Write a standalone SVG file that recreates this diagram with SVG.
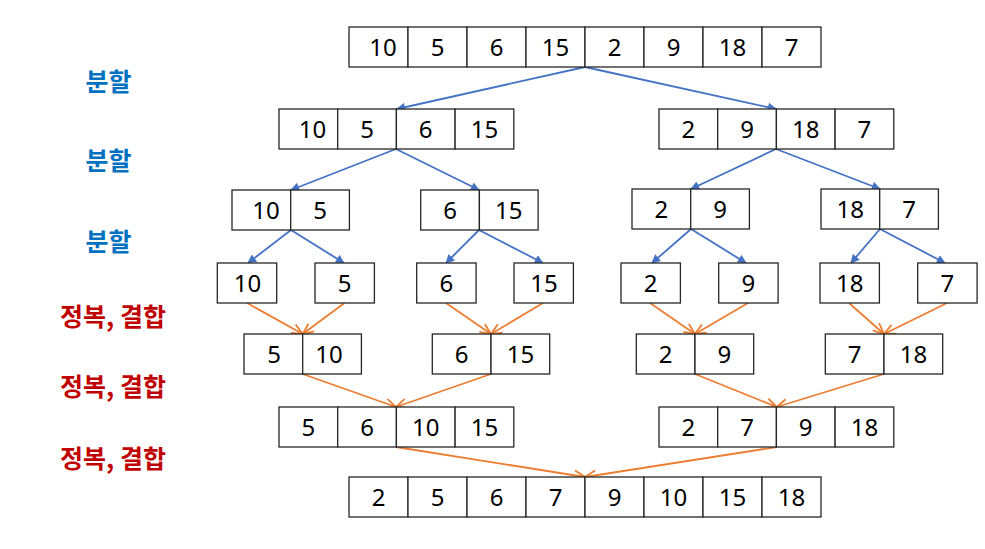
<svg xmlns="http://www.w3.org/2000/svg" width="985" height="549" viewBox="0 0 985 549">
<style>
.c{fill:#fff;stroke:#262626;stroke-width:1.3}
.n{font-family:"Noto Sans","Liberation Sans",sans-serif;font-size:24px;fill:#000;text-anchor:middle}
.lb{font-family:"Noto Sans CJK KR","Noto Sans",sans-serif;font-size:25px;font-weight:bold;text-anchor:middle}
.blue{fill:#0070C0}
.red{fill:#C00000}
.ab{stroke:#4472C4;stroke-width:1.8;fill:none;marker-end:url(#mb)}
.ao{stroke:#ED7D31;stroke-width:1.8;fill:none;marker-end:url(#mo)}
</style>
<defs>
<marker id="mb" viewBox="0 0 10 10" refX="9" refY="5" markerWidth="10" markerHeight="9" orient="auto" markerUnits="userSpaceOnUse">
<path d="M0,0 L10,5 L0,10 Z" fill="#4472C4"/>
</marker>
<marker id="mo" viewBox="0 0 10 10" refX="10" refY="5" markerWidth="12" markerHeight="12" orient="auto" markerUnits="userSpaceOnUse">
<path d="M1,1 L10,5 L1,9" fill="none" stroke="#ED7D31" stroke-width="1.5"/>
</marker>
</defs>

<g id="labels">
<text class="lb blue" x="108.5" y="91">분할</text>
<text class="lb blue" x="108.5" y="170">분할</text>
<text class="lb blue" x="108.5" y="251">분할</text>
<text class="lb red" x="113" y="326">정복, 결합</text>
<text class="lb red" x="113" y="396">정복, 결합</text>
<text class="lb red" x="113" y="468">정복, 결합</text>
</g>

<g id="connectors">
<line class="ab" x1="585" y1="67" x2="397" y2="109"/>
<line class="ab" x1="585" y1="67" x2="776" y2="109"/>
<line class="ab" x1="396" y1="149" x2="291" y2="190"/>
<line class="ab" x1="396" y1="149" x2="479" y2="190"/>
<line class="ab" x1="776" y1="149" x2="691" y2="189"/>
<line class="ab" x1="776" y1="149" x2="880" y2="189"/>
<line class="ab" x1="291" y1="230" x2="248" y2="263"/>
<line class="ab" x1="291" y1="230" x2="344" y2="263"/>
<line class="ab" x1="479" y1="230" x2="446" y2="263"/>
<line class="ab" x1="479" y1="230" x2="543" y2="263"/>
<line class="ab" x1="691" y1="229" x2="652" y2="263"/>
<line class="ab" x1="691" y1="229" x2="746" y2="263"/>
<line class="ab" x1="880" y1="229" x2="851" y2="263"/>
<line class="ab" x1="880" y1="229" x2="945" y2="263"/>

<line class="ao" x1="247" y1="303" x2="302.7" y2="334"/>
<line class="ao" x1="344.5" y1="303" x2="302.7" y2="334"/>
<line class="ao" x1="446" y1="303" x2="491" y2="334"/>
<line class="ao" x1="543" y1="303" x2="491" y2="334"/>
<line class="ao" x1="650" y1="303" x2="695" y2="334"/>
<line class="ao" x1="748" y1="303" x2="695" y2="334"/>
<line class="ao" x1="849" y1="303" x2="884" y2="334"/>
<line class="ao" x1="947" y1="303" x2="884" y2="334"/>
<line class="ao" x1="302.7" y1="374" x2="396" y2="407"/>
<line class="ao" x1="491" y1="374" x2="396" y2="407"/>
<line class="ao" x1="695" y1="374" x2="776.7" y2="407"/>
<line class="ao" x1="884" y1="374" x2="776.7" y2="407"/>
<line class="ao" x1="396" y1="447" x2="585" y2="477"/>
<line class="ao" x1="776.7" y1="447" x2="585" y2="477"/>
</g>

<g id="r1">
<rect class="c" x="349" y="27" width="59" height="40"/><rect class="c" x="408" y="27" width="59" height="40"/><rect class="c" x="467" y="27" width="59" height="40"/><rect class="c" x="526" y="27" width="59" height="40"/><rect class="c" x="585" y="27" width="59" height="40"/><rect class="c" x="644" y="27" width="59" height="40"/><rect class="c" x="703" y="27" width="59" height="40"/><rect class="c" x="762" y="27" width="59" height="40"/>
<text class="n" x="383" y="56">10</text><text class="n" x="437.5" y="56">5</text><text class="n" x="496.5" y="56">6</text><text class="n" x="555.5" y="56">15</text><text class="n" x="614.5" y="56">2</text><text class="n" x="673.5" y="56">9</text><text class="n" x="732.5" y="56">18</text><text class="n" x="791.5" y="56">7</text>
</g>

<g id="r2a">
<rect class="c" x="279" y="109" width="58.7" height="40"/><rect class="c" x="337.7" y="109" width="58.7" height="40"/><rect class="c" x="396.4" y="109" width="58.7" height="40"/><rect class="c" x="455.1" y="109" width="58.7" height="40"/>
<text class="n" x="312.5" y="138">10</text><text class="n" x="367" y="138">5</text><text class="n" x="425.7" y="138">6</text><text class="n" x="484.4" y="138">15</text>
</g>
<g id="r2b">
<rect class="c" x="659" y="109" width="58.7" height="40"/><rect class="c" x="717.7" y="109" width="58.7" height="40"/><rect class="c" x="776.4" y="109" width="58.7" height="40"/><rect class="c" x="835.1" y="109" width="58.7" height="40"/>
<text class="n" x="688.3" y="138">2</text><text class="n" x="747" y="138">9</text><text class="n" x="805.7" y="138">18</text><text class="n" x="864.4" y="138">7</text>
</g>

<g id="r3a">
<rect class="c" x="232" y="190" width="58.7" height="40"/><rect class="c" x="290.7" y="190" width="58.7" height="40"/>
<text class="n" x="266" y="219">10</text><text class="n" x="320" y="219">5</text>
</g>
<g id="r3b">
<rect class="c" x="420.7" y="190" width="58.7" height="40"/><rect class="c" x="479.4" y="190" width="58.7" height="40"/>
<text class="n" x="450" y="219">6</text><text class="n" x="508.7" y="219">15</text>
</g>
<g id="r3c">
<rect class="c" x="632" y="189" width="58.7" height="40"/><rect class="c" x="690.7" y="189" width="58.7" height="40"/>
<text class="n" x="661.3" y="218">2</text><text class="n" x="720" y="218">9</text>
</g>
<g id="r3d">
<rect class="c" x="821" y="189" width="58.7" height="40"/><rect class="c" x="879.7" y="189" width="58.7" height="40"/>
<text class="n" x="850.3" y="218">18</text><text class="n" x="909" y="218">7</text>
</g>

<g id="r4a"><rect class="c" x="217.3" y="263" width="59.4" height="40"/><text class="n" x="247.5" y="292">10</text></g>
<g id="r4b"><rect class="c" x="315" y="263" width="59.4" height="40"/><text class="n" x="344.7" y="292">5</text></g>
<g id="r4c"><rect class="c" x="416.7" y="263" width="59.4" height="40"/><text class="n" x="446.4" y="292">6</text></g>
<g id="r4d"><rect class="c" x="514" y="263" width="59.4" height="40"/><text class="n" x="544" y="292">15</text></g>
<g id="r4e"><rect class="c" x="621" y="263" width="59.4" height="40"/><text class="n" x="650.7" y="292">2</text></g>
<g id="r4f"><rect class="c" x="718.7" y="263" width="59.4" height="40"/><text class="n" x="748.4" y="292">9</text></g>
<g id="r4g"><rect class="c" x="820" y="263" width="59.4" height="40"/><text class="n" x="849.7" y="292">18</text></g>
<g id="r4h"><rect class="c" x="917.7" y="263" width="59.4" height="40"/><text class="n" x="947.4" y="292">7</text></g>

<g id="r5a">
<rect class="c" x="244" y="334" width="58.7" height="40"/><rect class="c" x="302.7" y="334" width="58.7" height="40"/>
<text class="n" x="274" y="363">5</text><text class="n" x="329" y="363">10</text>
</g>
<g id="r5b">
<rect class="c" x="432.3" y="334" width="58.7" height="40"/><rect class="c" x="491" y="334" width="58.7" height="40"/>
<text class="n" x="461.7" y="363">6</text><text class="n" x="520.4" y="363">15</text>
</g>
<g id="r5c">
<rect class="c" x="636.3" y="334" width="58.7" height="40"/><rect class="c" x="695" y="334" width="58.7" height="40"/>
<text class="n" x="665.7" y="363">2</text><text class="n" x="724.4" y="363">9</text>
</g>
<g id="r5d">
<rect class="c" x="825.3" y="334" width="58.7" height="40"/><rect class="c" x="884" y="334" width="58.7" height="40"/>
<text class="n" x="854.7" y="363">7</text><text class="n" x="913.4" y="363">18</text>
</g>

<g id="r6a">
<rect class="c" x="279" y="407" width="58.7" height="40"/><rect class="c" x="337.7" y="407" width="58.7" height="40"/><rect class="c" x="396.4" y="407" width="58.7" height="40"/><rect class="c" x="455.1" y="407" width="58.7" height="40"/>
<text class="n" x="308.3" y="436">5</text><text class="n" x="367" y="436">6</text><text class="n" x="425.7" y="436">10</text><text class="n" x="484.4" y="436">15</text>
</g>
<g id="r6b">
<rect class="c" x="659" y="407" width="58.7" height="40"/><rect class="c" x="717.7" y="407" width="58.7" height="40"/><rect class="c" x="776.4" y="407" width="58.7" height="40"/><rect class="c" x="835.1" y="407" width="58.7" height="40"/>
<text class="n" x="688.3" y="436">2</text><text class="n" x="747" y="436">7</text><text class="n" x="805.7" y="436">9</text><text class="n" x="864.4" y="436">18</text>
</g>

<g id="r7">
<rect class="c" x="349" y="477" width="59" height="40"/><rect class="c" x="408" y="477" width="59" height="40"/><rect class="c" x="467" y="477" width="59" height="40"/><rect class="c" x="526" y="477" width="59" height="40"/><rect class="c" x="585" y="477" width="59" height="40"/><rect class="c" x="644" y="477" width="59" height="40"/><rect class="c" x="703" y="477" width="59" height="40"/><rect class="c" x="762" y="477" width="59" height="40"/>
<text class="n" x="378.5" y="506">2</text><text class="n" x="437.5" y="506">5</text><text class="n" x="496.5" y="506">6</text><text class="n" x="555.5" y="506">7</text><text class="n" x="614.5" y="506">9</text><text class="n" x="673.5" y="506">10</text><text class="n" x="732.5" y="506">15</text><text class="n" x="791.5" y="506">18</text>
</g>
</svg>
